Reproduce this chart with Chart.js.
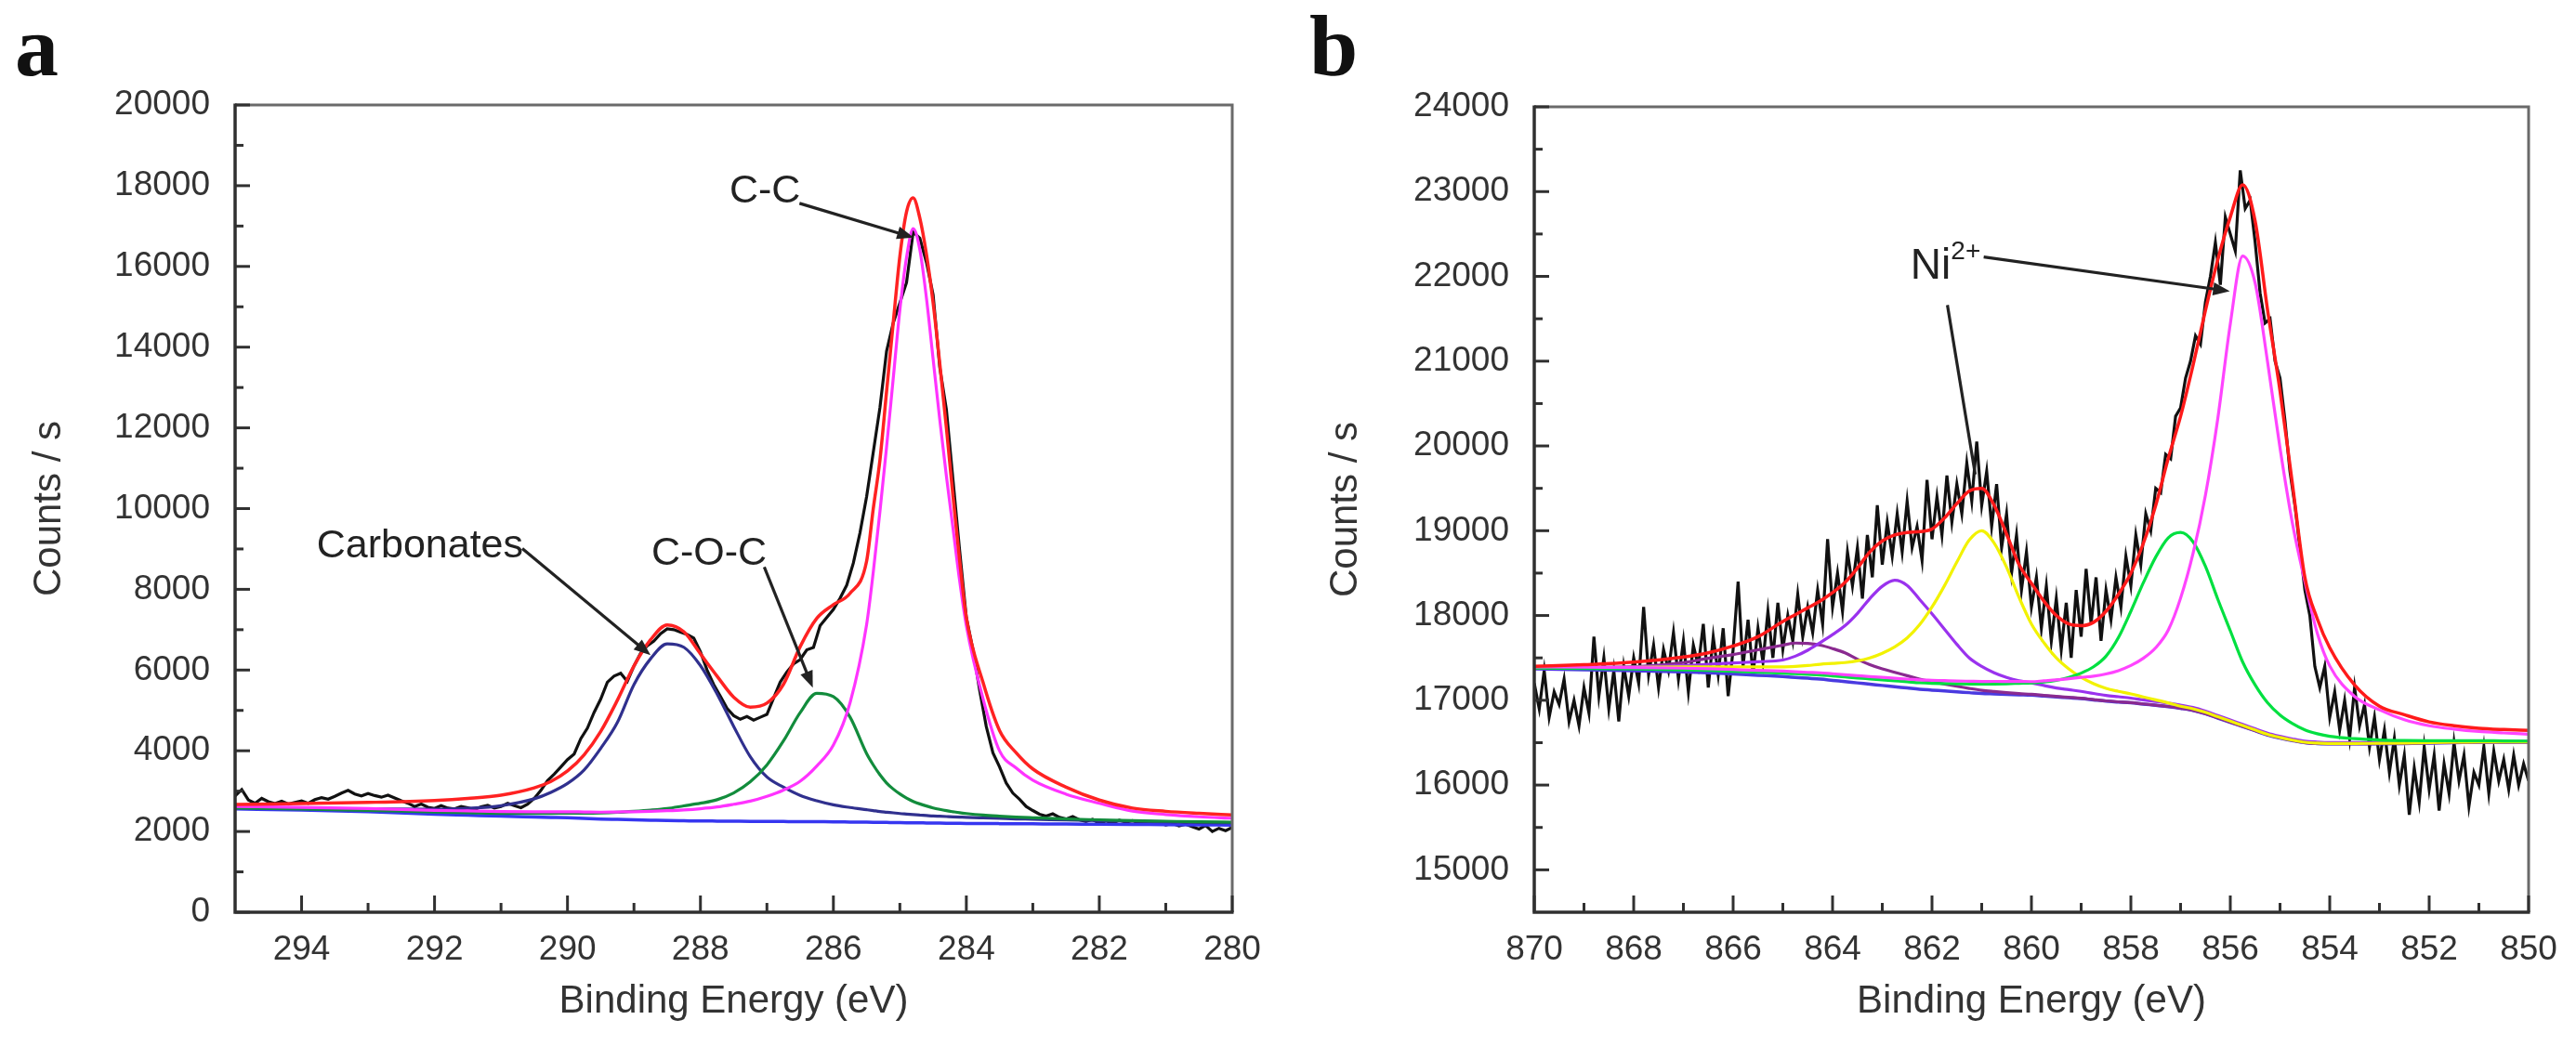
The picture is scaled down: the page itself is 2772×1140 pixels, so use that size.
<!DOCTYPE html>
<html><head><meta charset="utf-8">
<script src="https://cdn.jsdelivr.net/npm/chart.js@4.4.1/dist/chart.umd.min.js"></script>
<style>
html,body{margin:0;padding:0;background:#fff;}
#wrap{position:relative;width:2772px;height:1140px;overflow:hidden;background:#fff;}
.panel{position:absolute;top:0;width:1386px;height:1140px;}
.letter{position:absolute;top:2px;font-family:"Liberation Serif","Times New Roman",serif;font-weight:bold;font-size:94px;line-height:1;color:#111;}
</style></head>
<body><div id="wrap">
<div class="panel" style="left:0"><canvas id="ca"></canvas></div>
<div class="panel" style="left:1386px"><canvas id="cb"></canvas></div>
<div class="letter" style="left:16px">a</div>
<div class="letter" style="left:1409px">b</div>
</div>
<script>
// ---------------- Panel a : C 1s ----------------
const xTicksA = [294, 292, 290, 288, 286, 284, 282, 280];
const xMinorA = [293, 291, 289, 287, 285, 283, 281];
const yTicksA = [0, 2000, 4000, 6000, 8000, 10000, 12000, 14000, 16000, 18000, 20000];
const yMinorA = [1000, 3000, 5000, 7000, 9000, 11000, 13000, 15000, 17000, 19000];

const energyFitA = [295, 294, 293, 292, 291.5, 291, 290.5, 290.25, 290, 289.75, 289.5, 289.25, 289, 288.75, 288.5, 288.25, 288, 287.75, 287.5, 287.25, 287, 286.75, 286.5, 286.25, 286, 285.75, 285.5, 285.4, 285.3, 285.2, 285.1, 285.0, 284.9, 284.8, 284.7, 284.6, 284.5, 284.4, 284.3, 284.2, 284.1, 284.0, 283.75, 283.5, 283.25, 283, 282.5, 282, 281.5, 281, 280.5, 280];
const backgroundA = [2560, 2530, 2490, 2430, 2405, 2380, 2360, 2350, 2340, 2325, 2310, 2300, 2290, 2280, 2270, 2265, 2260, 2258, 2255, 2252, 2250, 2247, 2245, 2242, 2240, 2235, 2230, 2228, 2226, 2224, 2222, 2220, 2218, 2216, 2214, 2212, 2210, 2208, 2206, 2204, 2202, 2200, 2197, 2195, 2192, 2190, 2185, 2180, 2175, 2170, 2165, 2160];
const carbonatesA = [2590, 2570, 2560, 2550, 2575, 2640, 2810, 2970, 3190, 3525, 4060, 4700, 5640, 6280, 6650, 6565, 6110, 5410, 4605, 3852, 3350, 3097, 2895, 2762, 2660, 2595, 2540, 2518, 2496, 2479, 2462, 2445, 2433, 2421, 2409, 2397, 2385, 2378, 2371, 2364, 2357, 2350, 2337, 2325, 2312, 2305, 2285, 2270, 2255, 2240, 2225, 2215];
const cocA = [2580, 2555, 2525, 2480, 2465, 2450, 2450, 2450, 2455, 2455, 2460, 2475, 2500, 2530, 2570, 2635, 2700, 2788, 2955, 3232, 3650, 4247, 4945, 5422, 5340, 4835, 3930, 3648, 3406, 3204, 3052, 2930, 2828, 2746, 2684, 2632, 2585, 2548, 2516, 2489, 2464, 2445, 2407, 2380, 2357, 2340, 2310, 2290, 2270, 2255, 2240, 2230];
const ccA = [2620, 2600, 2570, 2525, 2510, 2495, 2490, 2490, 2490, 2485, 2480, 2485, 2490, 2500, 2515, 2535, 2565, 2608, 2675, 2752, 2870, 3027, 3245, 3622, 4140, 5185, 7130, 8428, 9926, 11524, 13222, 14920, 16218, 16936, 16414, 15212, 13710, 12208, 10806, 9504, 8202, 7100, 5297, 3995, 3572, 3270, 2925, 2700, 2505, 2420, 2365, 2330];
const envelopeA = [2670, 2690, 2720, 2770, 2820, 2900, 3080, 3240, 3500, 3900, 4480, 5250, 6100, 6750, 7120, 6950, 6400, 5850, 5330, 5080, 5180, 5650, 6580, 7280, 7620, 7900, 8700, 10000, 11200, 12900, 14600, 16250, 17350, 17700, 17200, 16300, 15100, 13600, 12000, 10300, 8700, 7300, 5700, 4500, 3950, 3550, 3100, 2780, 2580, 2500, 2450, 2410];
const measuredA = [[295.0,2880],[294.9,3040],[294.8,2780],[294.7,2700],[294.6,2820],[294.5,2740],[294.4,2690],[294.3,2750],[294.2,2680],[294.1,2720],[294.0,2760],[293.9,2700],[293.8,2790],[293.7,2840],[293.6,2800],[293.5,2870],[293.4,2950],[293.3,3020],[293.2,2930],[293.1,2880],[293.0,2940],[292.9,2890],[292.8,2850],[292.7,2900],[292.6,2830],[292.5,2760],[292.4,2700],[292.3,2620],[292.2,2680],[292.1,2600],[292.0,2570],[291.9,2640],[291.8,2580],[291.7,2560],[291.6,2620],[291.5,2590],[291.4,2540],[291.3,2610],[291.2,2650],[291.1,2580],[291.0,2620],[290.9,2700],[290.8,2640],[290.7,2590],[290.6,2680],[290.5,2820],[290.4,3020],[290.3,3260],[290.2,3420],[290.1,3600],[290.0,3780],[289.9,3920],[289.8,4300],[289.7,4560],[289.6,4950],[289.5,5280],[289.4,5700],[289.3,5850],[289.2,5920],[289.1,5720],[289.0,6100],[288.9,6420],[288.8,6600],[288.7,6720],[288.6,6900],[288.5,7020],[288.4,7000],[288.3,6940],[288.2,6880],[288.1,6790],[288.0,6450],[287.9,6000],[287.8,5640],[287.7,5350],[287.6,5050],[287.5,4870],[287.4,4780],[287.3,4850],[287.2,4760],[287.1,4830],[287.0,4900],[286.9,5300],[286.8,5700],[286.7,5950],[286.6,6150],[286.5,6260],[286.4,6500],[286.3,6560],[286.2,7100],[286.1,7300],[286.0,7500],[285.9,7780],[285.8,8100],[285.7,8650],[285.6,9400],[285.5,10300],[285.4,11400],[285.3,12500],[285.2,13900],[285.1,14600],[285.0,15100],[284.9,15600],[284.8,16850],[284.7,16700],[284.6,16100],[284.5,15300],[284.4,13500],[284.3,12450],[284.2,10700],[284.1,8950],[284.0,7300],[283.9,6500],[283.8,5500],[283.7,4600],[283.6,3950],[283.5,3600],[283.4,3200],[283.3,2950],[283.2,2800],[283.1,2620],[283.0,2520],[282.9,2430],[282.8,2380],[282.7,2440],[282.6,2350],[282.5,2310],[282.4,2370],[282.3,2290],[282.2,2250],[282.1,2300],[282.0,2200],[281.9,2260],[281.8,2210],[281.7,2280],[281.6,2230],[281.5,2270],[281.4,2200],[281.3,2240],[281.2,2180],[281.1,2220],[281.0,2160],[280.9,2200],[280.8,2140],[280.7,2180],[280.6,2120],[280.5,2060],[280.4,2150],[280.3,2000],[280.2,2080],[280.1,2020],[280.0,2100]];

// ---------------- Panel b : Ni 2p ----------------
const xTicksB = [870, 868, 866, 864, 862, 860, 858, 856, 854, 852, 850];
const xMinorB = [869, 867, 865, 863, 861, 859, 857, 855, 853, 851];
const yTicksB = [15000, 16000, 17000, 18000, 19000, 20000, 21000, 22000, 23000, 24000];
const yMinorB = [15500, 16500, 17500, 18500, 19500, 20500, 21500, 22500, 23500];

const energyFitB = [870, 869, 868, 867, 866.5, 866, 865.5, 865, 864.75, 864.5, 864.25, 864, 863.75, 863.5, 863.25, 863, 862.75, 862.5, 862.25, 862, 861.75, 861.5, 861.25, 861, 860.75, 860.5, 860.25, 860, 859.75, 859.5, 859.25, 859, 858.75, 858.5, 858.25, 858, 857.75, 857.5, 857.25, 857, 856.75, 856.5, 856.25, 856, 855.75, 855.5, 855.25, 855, 854.75, 854.5, 854.25, 854, 853.5, 853, 852.5, 852, 851.5, 851, 850.5, 850];
const backgroundB = [17370, 17360, 17350, 17335, 17325, 17310, 17295, 17280, 17270, 17260, 17250, 17235, 17220, 17205, 17190, 17175, 17160, 17145, 17130, 17120, 17110, 17100, 17090, 17080, 17075, 17070, 17065, 17060, 17050, 17040, 17030, 17020, 17005, 16990, 16980, 16970, 16955, 16940, 16925, 16905, 16880, 16840, 16790, 16740, 16690, 16640, 16590, 16555, 16525, 16500, 16490, 16485, 16485, 16487, 16490, 16495, 16500, 16505, 16505, 16505];
const sat864B = [17380, 17380, 17395, 17445, 17495, 17540, 17595, 17650, 17675, 17670, 17650, 17610, 17560, 17485, 17420, 17370, 17330, 17290, 17250, 17220, 17192, 17165, 17140, 17118, 17103, 17090, 17079, 17070, 17058, 17046, 17035, 17024, 17008, 16993, 16982, 16972, 16957, 16942, 16927, 16907, 16882, 16842, 16792, 16742, 16692, 16642, 16592, 16557, 16527, 16502, 16492, 16487, 16487, 16489, 16492, 16497, 16502, 16507, 16507, 16507];
const sat863B = [17390, 17390, 17395, 17410, 17425, 17440, 17455, 17475, 17520, 17590, 17680, 17775, 17880, 18025, 18200, 18345, 18415, 18355, 18190, 18020, 17840, 17660, 17500, 17400, 17325, 17270, 17230, 17205, 17175, 17145, 17125, 17105, 17080, 17058, 17042, 17026, 17005, 16986, 16967, 16943, 16915, 16872, 16820, 16768, 16716, 16664, 16612, 16575, 16544, 16518, 16507, 16501, 16500, 16501, 16503, 16507, 16511, 16515, 16515, 16515];
const sat861B = [17390, 17390, 17390, 17395, 17395, 17395, 17395, 17395, 17400, 17410, 17425, 17435, 17445, 17465, 17500, 17555, 17630, 17735, 17890, 18100, 18350, 18630, 18890, 19000, 18855, 18570, 18215, 17900, 17680, 17500, 17370, 17270, 17195, 17140, 17105, 17075, 17040, 17005, 16970, 16930, 16900, 16858, 16806, 16754, 16702, 16650, 16598, 16561, 16530, 16505, 16495, 16490, 16490, 16492, 16495, 16500, 16505, 16510, 16510, 16510];
const peak857B = [17380, 17374, 17368, 17359, 17353, 17342, 17331, 17320, 17313, 17306, 17299, 17287, 17275, 17263, 17252, 17241, 17230, 17219, 17207, 17200, 17197, 17195, 17192, 17190, 17192, 17195, 17200, 17205, 17215, 17235, 17270, 17320, 17395, 17520, 17740, 18050, 18385, 18690, 18915, 18980, 18870, 18580, 18190, 17820, 17450, 17180, 16970, 16825, 16725, 16650, 16605, 16575, 16547, 16532, 16525, 16523, 16523, 16524, 16521, 16519];
const peak856B = [17395, 17390, 17386, 17379, 17373, 17363, 17353, 17344, 17337, 17330, 17324, 17313, 17302, 17291, 17280, 17270, 17260, 17250, 17240, 17236, 17232, 17228, 17225, 17222, 17223, 17222, 17221, 17220, 17230, 17240, 17255, 17270, 17285, 17310, 17350, 17410, 17495, 17620, 17825, 18205, 18730, 19420, 20330, 21440, 22240, 21920, 20990, 19975, 19085, 18400, 17790, 17405, 17045, 16887, 16770, 16700, 16660, 16632, 16615, 16600];
const envelopeB = [17400, 17420, 17450, 17510, 17560, 17640, 17750, 17930, 18010, 18090, 18170, 18270, 18390, 18560, 18750, 18880, 18950, 18980, 18990, 19020, 19150, 19320, 19470, 19500, 19300, 18960, 18600, 18380, 18170, 18000, 17900, 17880, 17920, 18050, 18250, 18500, 18850, 19300, 19850, 20350, 20950, 21600, 22200, 22700, 23080, 22650, 21600, 20650, 19550, 18450, 17960, 17620, 17180, 16930, 16830, 16745, 16700, 16670, 16655, 16645];
const measuredB = [[870.0,17200],[869.9,16900],[869.8,17350],[869.7,16800],[869.6,17100],[869.5,16950],[869.4,17250],[869.3,16750],[869.2,17000],[869.1,16700],[869.0,17150],[868.9,16850],[868.8,17750],[868.7,17050],[868.6,17500],[868.5,16900],[868.4,17350],[868.3,16750],[868.2,17400],[868.1,17050],[868.0,17500],[867.9,17200],[867.8,18100],[867.7,17300],[867.6,17650],[867.5,17150],[867.4,17600],[867.3,17350],[867.2,17800],[867.1,17250],[867.0,17700],[866.9,17100],[866.8,17650],[866.7,17400],[866.6,17900],[866.5,17150],[866.4,17750],[866.3,17300],[866.2,17850],[866.1,17050],[866.0,17600],[865.9,18400],[865.8,17400],[865.7,17950],[865.6,17300],[865.5,17850],[865.4,17450],[865.3,18050],[865.2,17500],[865.1,18150],[865.0,17600],[864.9,18000],[864.8,17700],[864.7,18250],[864.6,17750],[864.5,18100],[864.4,17800],[864.3,18300],[864.2,17900],[864.1,18900],[864.0,18100],[863.9,18500],[863.8,18050],[863.7,18750],[863.6,18350],[863.5,18800],[863.4,18200],[863.3,18950],[863.2,18450],[863.1,19300],[863.0,18600],[862.9,19100],[862.8,18700],[862.7,19200],[862.6,18750],[862.5,19350],[862.4,18800],[862.3,19050],[862.2,18650],[862.1,19600],[862.0,18900],[861.9,19400],[861.8,18950],[861.7,19650],[861.6,19100],[861.5,19550],[861.4,19200],[861.3,19800],[861.2,19350],[861.1,20050],[861.0,19300],[860.9,19700],[860.8,19050],[860.7,19550],[860.6,18800],[860.5,19200],[860.4,18500],[860.3,18950],[860.2,18300],[860.1,18750],[860.0,18100],[859.9,18450],[859.8,17850],[859.7,18350],[859.6,17700],[859.5,18200],[859.4,17600],[859.3,18150],[859.2,17500],[859.1,18300],[859.0,17750],[858.9,18550],[858.8,17900],[858.7,18450],[858.6,17700],[858.5,18300],[858.4,17950],[858.3,18450],[858.2,18100],[858.1,18700],[858.0,18350],[857.9,18950],[857.8,18600],[857.7,19200],[857.6,19000],[857.5,19500],[857.4,19450],[857.3,19900],[857.2,19850],[857.1,20350],[857.0,20450],[856.9,20800],[856.8,21000],[856.7,21300],[856.6,21200],[856.5,21700],[856.4,22000],[856.3,22400],[856.2,21900],[856.1,22700],[856.0,22500],[855.9,22300],[855.8,23250],[855.7,22800],[855.6,22900],[855.5,22400],[855.4,21800],[855.3,21450],[855.2,21500],[855.1,21000],[855.0,20800],[854.9,20300],[854.8,19700],[854.7,19300],[854.6,18800],[854.5,18300],[854.4,18000],[854.3,17400],[854.2,17150],[854.1,17400],[854.0,16800],[853.9,17100],[853.8,16650],[853.7,17000],[853.6,16550],[853.5,17150],[853.4,16700],[853.3,16950],[853.2,16450],[853.1,16800],[853.0,16300],[852.9,16650],[852.8,16150],[852.7,16550],[852.6,16000],[852.5,16350],[852.4,15650],[852.3,16200],[852.2,15800],[852.1,16450],[852.0,15950],[851.9,16350],[851.8,15700],[851.7,16250],[851.6,15900],[851.5,16500],[851.4,16050],[851.3,16350],[851.2,15750],[851.1,16150],[851.0,16000],[850.9,16450],[850.8,15900],[850.7,16400],[850.6,16050],[850.5,16300],[850.4,15950],[850.3,16350],[850.2,16000],[850.1,16250],[850.0,16050]];

// ---------------- helpers ----------------
const FONT = '"Liberation Sans", Arial, Helvetica, sans-serif';

function fitSet(xs, ys, color, w) {
  return { data: xs.map((e, i) => ({ x: e, y: ys[i] })), borderColor: color, borderWidth: w,
           pointRadius: 0, fill: false, cubicInterpolationMode: 'monotone' };
}
function rawSet(pairs, color, w) {
  return { data: pairs.map(p => ({ x: p[0], y: p[1] })), borderColor: color, borderWidth: w,
           pointRadius: 0, fill: false, tension: 0 };
}

function makeDecor(d) {
  return {
    id: 'decor',
    afterDraw(chart) {
      const ctx = chart.ctx, a = chart.chartArea, xs = chart.scales.x, ys = chart.scales.y;
      ctx.save();
      ctx.lineCap = 'butt';
      // frame
      ctx.strokeStyle = '#6a6a6a'; ctx.lineWidth = 3;
      ctx.beginPath(); ctx.moveTo(a.left, a.top); ctx.lineTo(a.right, a.top); ctx.lineTo(a.right, a.bottom); ctx.stroke();
      ctx.strokeStyle = '#303030'; ctx.lineWidth = 3.5;
      ctx.beginPath(); ctx.moveTo(a.left, a.top - 1.5); ctx.lineTo(a.left, a.bottom); ctx.lineTo(a.right + 1.5, a.bottom); ctx.stroke();
      // inward ticks
      ctx.lineWidth = 3;
      const vt = (v, len) => { const p = xs.getPixelForValue(v); ctx.beginPath(); ctx.moveTo(p, a.bottom); ctx.lineTo(p, a.bottom - len); ctx.stroke(); };
      const ht = (v, len) => { const p = ys.getPixelForValue(v); ctx.beginPath(); ctx.moveTo(a.left, p); ctx.lineTo(a.left + len, p); ctx.stroke(); };
      d.xMajor.forEach(v => vt(v, 18)); d.xMinor.forEach(v => vt(v, 10));
      d.yMajor.forEach(v => ht(v, 16)); d.yMinor.forEach(v => ht(v, 9));
      // arrows
      ctx.strokeStyle = '#222'; ctx.fillStyle = '#222'; ctx.lineWidth = 3.2;
      d.arrows.forEach(ar => {
        const x1 = xs.getPixelForValue(ar.from[0]), y1 = ys.getPixelForValue(ar.from[1]);
        const x2 = xs.getPixelForValue(ar.to[0]), y2 = ys.getPixelForValue(ar.to[1]);
        const ang = Math.atan2(y2 - y1, x2 - x1), hl = ar.head ? 18 : 0, hw = 7;
        ctx.beginPath(); ctx.moveTo(x1, y1);
        ctx.lineTo(x2 - hl * 0.7 * Math.cos(ang), y2 - hl * 0.7 * Math.sin(ang)); ctx.stroke();
        if (ar.head) {
          const bx = x2 - hl * Math.cos(ang), by = y2 - hl * Math.sin(ang);
          ctx.beginPath(); ctx.moveTo(x2, y2);
          ctx.lineTo(bx + hw * Math.sin(ang), by - hw * Math.cos(ang));
          ctx.lineTo(bx - hw * Math.sin(ang), by + hw * Math.cos(ang));
          ctx.closePath(); ctx.fill();
        }
      });
      // labels
      d.labels.forEach(lb => {
        ctx.font = lb.size + 'px ' + FONT;
        ctx.textAlign = lb.align || 'center'; ctx.textBaseline = 'middle';
        ctx.fillText(lb.text, xs.getPixelForValue(lb.at[0]), ys.getPixelForValue(lb.at[1]));
      });
      ctx.restore();
    }
  };
}

function makeChart(id, c) {
  return new Chart(document.getElementById(id), {
    type: 'line',
    data: { datasets: c.datasets },
    options: {
      responsive: true, maintainAspectRatio: false, animation: false, devicePixelRatio: 1,
      layout: { padding: { left: 0, right: c.padRight, top: c.padTop, bottom: 0 } },
      plugins: { legend: { display: false }, tooltip: { enabled: false } },
      scales: {
        x: {
          type: 'linear', reverse: true, min: c.xMin, max: c.xMax,
          afterBuildTicks: s => { s.ticks = c.xTicks.map(v => ({ value: v })); },
          afterFit: s => { s.height = 158; },
          grid: { display: false }, border: { display: false },
          ticks: { callback: v => String(v), font: { family: FONT, size: 37 }, color: '#333', padding: 11, maxRotation: 0, autoSkip: false },
          title: { display: true, text: 'Binding Energy (eV)', font: { family: FONT, size: 42 }, color: '#333', padding: { top: 0, bottom: 36 } }
        },
        y: {
          type: 'linear', min: c.yMin, max: c.yMax,
          afterBuildTicks: s => { s.ticks = c.yTicks.map(v => ({ value: v })); },
          afterFit: s => { s.width = c.yWidth; },
          grid: { display: false }, border: { display: false },
          ticks: { callback: v => String(v), font: { family: FONT, size: 37 }, color: '#333', padding: 19, autoSkip: false },
          title: { display: true, text: 'Counts / s', font: { family: FONT, size: 42 }, color: '#333', padding: { top: c.yTitlePad, bottom: 0 } }
        }
      }
    },
    plugins: [makeDecor(c.decor)]
  });
}

// ---------------- charts ----------------
makeChart('ca', {
  xMin: 280, xMax: 295, yMin: 0, yMax: 20000, xTicks: xTicksA, yTicks: yTicksA,
  padRight: 60, padTop: 113, yWidth: 253, yTitlePad: 28,
  datasets: [
    fitSet(energyFitA, envelopeA, '#ff2222', 3.5),
    fitSet(energyFitA, ccA, '#ff33ff', 3.2),
    fitSet(energyFitA, cocA, '#128c3c', 3.2),
    fitSet(energyFitA, carbonatesA, '#30308e', 3.2),
    fitSet(energyFitA, backgroundA, '#3636f0', 3.5),
    rawSet(measuredA, '#111111', 3.2)
  ],
  decor: {
    xMajor: xTicksA, xMinor: xMinorA, yMajor: yTicksA, yMinor: yMinorA,
    arrows: [
      { from: [286.51, 17563], to: [284.79, 16713], head: true },
      { from: [290.68, 9011], to: [288.75, 6368], head: true },
      { from: [287.04, 8552], to: [286.31, 5563], head: true }
    ],
    labels: [
      { text: 'C-C', at: [287.03, 17860], size: 43 },
      { text: 'Carbonates', at: [292.22, 9057], size: 43 },
      { text: 'C-O-C', at: [287.87, 8874], size: 43 }
    ]
  }
});

makeChart('cb', {
  xMin: 850, xMax: 870, yMin: 14500, yMax: 24000, xTicks: xTicksB, yTicks: yTicksB,
  padRight: 51, padTop: 115, yWidth: 265, yTitlePad: 37,
  datasets: [
    fitSet(energyFitB, envelopeB, '#ff1a1a', 3.5),
    fitSet(energyFitB, peak856B, '#ff44ff', 3.2),
    fitSet(energyFitB, peak857B, '#00e040', 3.2),
    fitSet(energyFitB, sat861B, '#f2f200', 3.2),
    fitSet(energyFitB, sat863B, '#9a32ee', 3.2),
    fitSet(energyFitB, sat864B, '#8a2a90', 3.2),
    fitSet(energyFitB, backgroundB, '#4a3ae0', 3.5),
    rawSet(measuredB, '#111111', 3.2)
  ],
  decor: {
    xMajor: xTicksB, xMinor: xMinorB, yMajor: yTicksB, yMinor: yMinorB,
    arrows: [
      { from: [860.96, 22229], to: [856.01, 21825], head: true },
      { from: [861.69, 21662], to: [861.13, 19664], head: false }
    ],
    labels: [
      { text: 'Ni', at: [862.03, 22109], size: 46 },
      { text: '2+', at: [861.62, 22290], size: 28, align: 'left' }
    ]
  }
});
</script>
</body></html>
